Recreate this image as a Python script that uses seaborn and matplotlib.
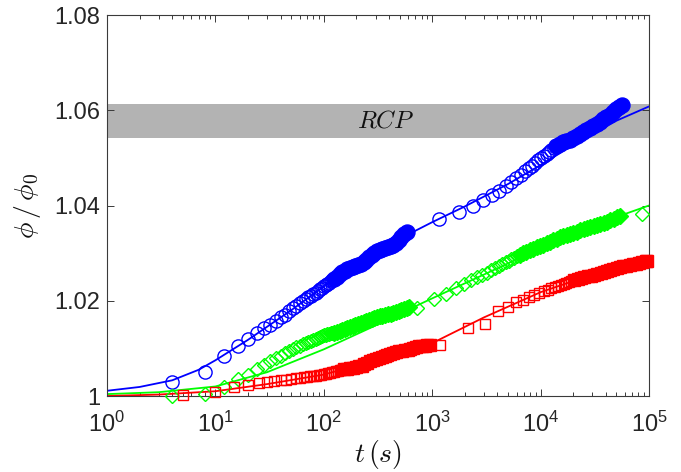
import matplotlib
matplotlib.use("Agg")
import matplotlib.pyplot as plt
import matplotlib.ticker as mticker
import seaborn as sns
import numpy as np

# ---- data ----
# blue circles: first run (sparse part, dense part), second run (sparse, dense)
blue_t1 = [4, 8, 12, 16, 20, 24, 28, 32, 36, 40, 44, 48, 52, 56, 60, 64, 68, 72, 76, 80,
           84, 88, 92, 96, 100, 104, 108, 112, 116, 120]
blue_y1 = [1.0030, 1.0051, 1.0084, 1.0105, 1.0120, 1.0132, 1.0142, 1.0150, 1.0158, 1.0165,
           1.0171, 1.0178, 1.0185, 1.0190, 1.0195, 1.0199, 1.0203, 1.0207, 1.0211, 1.0214,
           1.0217, 1.0221, 1.0224, 1.0227, 1.0230, 1.0233, 1.0236, 1.0238, 1.0241, 1.0243]
blue_t1d = [125, 132, 140, 148, 156, 165, 175, 185, 196, 208, 220, 233, 247, 261, 277, 293,
            310, 329, 348, 369, 390, 413, 438, 464, 491, 520, 550, 580]
blue_y1d = [1.0246, 1.0250, 1.0256, 1.0260, 1.0263, 1.0266, 1.0268, 1.0270, 1.0272, 1.0275,
            1.0278, 1.0282, 1.0286, 1.0292, 1.0297, 1.0301, 1.0304, 1.0306, 1.0308, 1.0310,
            1.0312, 1.0314, 1.0317, 1.0322, 1.0328, 1.0334, 1.0340, 1.0345]
blue_t2 = [1160, 1760, 2360, 2960, 3560, 4160, 4760, 5360, 5960, 6560, 7160, 7760, 8360,
           8960, 9560, 10160, 10760, 11360, 11960, 12560, 13160]
blue_y2 = [1.0371, 1.0386, 1.0399, 1.0412, 1.0422, 1.0431, 1.0441, 1.0450, 1.0458, 1.0465,
           1.0472, 1.0478, 1.0484, 1.0490, 1.0495, 1.0500, 1.0504, 1.0508, 1.0512, 1.0516,
           1.0520]
blue_t2d = [14000, 15000, 16000, 17200, 18500, 20000, 21500, 23000, 24700, 26500, 28500,
            30500, 32800, 35200, 37800, 40500, 43500, 46700, 50000, 53000, 56000]
blue_y2d = [1.0524, 1.0529, 1.0533, 1.0536, 1.0538, 1.0542, 1.0546, 1.0550, 1.0554, 1.0559,
            1.0563, 1.0567, 1.0571, 1.0576, 1.0581, 1.0586, 1.0591, 1.0597, 1.0602, 1.0606,
            1.0610]

# green diamonds
green_t1 = [4, 8, 12, 16, 20, 24, 28, 32, 36, 40, 44, 48, 52, 56, 60, 64, 68, 72, 76, 80,
            84, 88, 92, 96, 100, 104, 108, 112, 116, 120]
green_y1 = [1.0001, 1.0005, 1.0018, 1.0036, 1.0045, 1.0057, 1.0066, 1.0073, 1.0079, 1.0085,
            1.0090, 1.0095, 1.0099, 1.0103, 1.0106, 1.0109, 1.0111, 1.0114, 1.0116, 1.0118,
            1.0120, 1.0122, 1.0124, 1.0126, 1.0128, 1.0129, 1.0130, 1.0131, 1.0132, 1.0133]
green_t1d = [125, 132, 140, 148, 156, 165, 175, 185, 196, 208, 220, 233, 247, 261, 277, 293,
             310, 329, 348, 369, 390, 413, 438, 464, 491, 520, 550, 580, 610]
green_y1d = [1.0133, 1.0135, 1.0137, 1.0139, 1.0141, 1.0143, 1.0145, 1.0147, 1.0149, 1.0151,
             1.0154, 1.0156, 1.0158, 1.0160, 1.0162, 1.0164, 1.0166, 1.0167, 1.0169, 1.0170,
             1.0172, 1.0173, 1.0175, 1.0177, 1.0179, 1.0181, 1.0183, 1.0185, 1.0187]
green_t2 = [730, 1040, 1350, 1660, 1970, 2280, 2590, 2900, 3210, 3520, 3830, 4140, 4450,
            4760, 5070, 5380, 5690, 6000, 85700]
green_y2 = [1.0185, 1.0203, 1.0214, 1.0226, 1.0236, 1.0244, 1.0250, 1.0255, 1.0259, 1.0264,
            1.0268, 1.0273, 1.0277, 1.0281, 1.0284, 1.0287, 1.0290, 1.0293, 1.0382]
green_t2d = [6400, 6900, 7400, 8000, 8600, 9200, 9900, 10600, 11400, 12200, 13100, 14100,
             15100, 16200, 17400, 18700, 20100, 21600, 23200, 24900, 26700, 28700, 30800,
             33100, 35500, 38100, 41000, 44000, 47300, 50800, 54500]
green_y2d = [1.0296, 1.0300, 1.0303, 1.0306, 1.0309, 1.0312, 1.0315, 1.0318, 1.0321, 1.0324,
             1.0327, 1.0330, 1.0333, 1.0335, 1.0338, 1.0340, 1.0343, 1.0345, 1.0348, 1.0350,
             1.0353, 1.0355, 1.0357, 1.0359, 1.0361, 1.0364, 1.0366, 1.0369, 1.0372, 1.0375,
             1.0378]

# red squares
red_t1 = [5, 10, 15, 20, 25, 30, 35, 40, 45, 50, 55, 60, 65, 70, 75, 80, 85, 90, 95, 100,
          105, 110, 115, 120, 125, 130, 135, 140, 145, 150]
red_y1 = [1.0002, 1.0009, 1.0019, 1.0023, 1.0027, 1.0029, 1.0031, 1.0033, 1.0034, 1.0036,
          1.0037, 1.0038, 1.0039, 1.0040, 1.0041, 1.0042, 1.0043, 1.0044, 1.0045, 1.0046,
          1.0047, 1.0048, 1.0049, 1.0050, 1.0051, 1.0052, 1.0053, 1.0054, 1.0055, 1.0056]
red_t1d = [155, 165, 175, 186, 198, 210, 223, 237, 252, 268, 285, 303, 322, 342, 364, 387,
           411, 437, 464, 493, 524, 557, 592, 629, 668, 710, 755, 802, 852, 905, 950]
red_y1d = [1.0056, 1.0057, 1.0058, 1.0059, 1.0061, 1.0062, 1.0064, 1.0067, 1.0070, 1.0073,
           1.0076, 1.0078, 1.0080, 1.0082, 1.0084, 1.0086, 1.0088, 1.0090, 1.0092, 1.0094,
           1.0095, 1.0096, 1.0097, 1.0099, 1.0101, 1.0103, 1.0104, 1.0105, 1.0106, 1.0107,
           1.0108]
red_t2 = [1180, 2130, 3080, 4030, 4980, 5930, 6880, 7830, 8780, 9730, 10680, 11630, 12580,
          13530, 14480, 15430, 16380, 17330, 18280, 19230]
red_y2 = [1.0108, 1.0143, 1.0152, 1.0178, 1.0186, 1.0197, 1.0202, 1.0207, 1.0212, 1.0217,
          1.0220, 1.0223, 1.0226, 1.0229, 1.0231, 1.0233, 1.0235, 1.0237, 1.0239, 1.0241]
red_t2d = [20500, 22000, 23600, 25300, 27100, 29000, 31100, 33300, 35700, 38200, 40900,
           43800, 46900, 50200, 53800, 57600, 61700, 66100, 70800, 75800, 81200, 87000,
           93000, 96000]
red_y2d = [1.0243, 1.0245, 1.0247, 1.0249, 1.0251, 1.0253, 1.0255, 1.0257, 1.0259, 1.0261,
           1.0263, 1.0265, 1.0267, 1.0269, 1.0271, 1.0272, 1.0273, 1.0275, 1.0277, 1.0278,
           1.0280, 1.0281, 1.0283, 1.0284]

# fitted curves
blue_fit_t = [1, 2, 4, 7, 10, 20, 50, 100, 200, 500, 1000, 2000, 5000, 10000, 20000, 50000, 100000]
blue_fit_y = [1.0011, 1.0019, 1.0033, 1.0055, 1.0075, 1.0118, 1.0180, 1.0230, 1.0275, 1.0330,
              1.0365, 1.0398, 1.0445, 1.0485, 1.0527, 1.0578, 1.0608]
green_fit_t = [1, 3, 10, 30, 100, 300, 650, 1000, 3000, 10000, 30000, 100000]
green_fit_y = [1.0004, 1.0008, 1.0020, 1.0050, 1.0098, 1.0148, 1.0185, 1.0205, 1.0255,
               1.0310, 1.0358, 1.0400]
red_fit_t = [1, 3, 10, 30, 100, 300, 1000, 3000, 10000, 30000, 100000]
red_fit_y = [1.0000, 1.0003, 1.0010, 1.0025, 1.0045, 1.0075, 1.0111, 1.0165, 1.0218,
             1.0255, 1.0285]

rcp_band = (1.0542, 1.0614)
y_ticks = [1, 1.02, 1.04, 1.06, 1.08]
y_ticklabels = ["1", "1.02", "1.04", "1.06", "1.08"]

# ---- style ----
sns.set_style("ticks")
plt.rcParams["font.family"] = ["Liberation Sans", "DejaVu Sans"]
plt.rcParams["mathtext.fontset"] = "cm"
axis_col = "#3a3a3a"

fig = plt.figure(figsize=(6.81, 4.72), dpi=100)
ax = fig.add_axes([0.1571, 0.1610, 0.7959, 0.8072])

ax.axhspan(rcp_band[0], rcp_band[1], color="#b3b3b3", lw=0, zorder=0)

for ft, fy, c in [(blue_fit_t, blue_fit_y, "#0000ff"),
                  (green_fit_t, green_fit_y, "#00ff00"),
                  (red_fit_t, red_fit_y, "#ff0000")]:
    sns.lineplot(x=ft, y=fy, color=c, linewidth=1.3, estimator=None, sort=False, ax=ax, zorder=2)


def points(t, y, color, marker, ms, filled):
    sns.lineplot(x=t, y=y, color=color, linestyle="", marker=marker, markersize=ms,
                 markerfacecolor=color if filled else "none", markeredgecolor=color,
                 markeredgewidth=1.0, estimator=None, sort=False, ax=ax, zorder=3,
                 clip_on=False)


# marker sizes: (open, filled) -- the dense runs overlap into a solid band
series = [
    (blue_t1, blue_y1, blue_t1d, blue_y1d, blue_t2, blue_y2, blue_t2d, blue_y2d, "#0000ff", "o", 9.5, 10.8),
    (green_t1, green_y1, green_t1d, green_y1d, green_t2, green_y2, green_t2d, green_y2d, "#00ff00", "D", 6.8, 7.8),
    (red_t1, red_y1, red_t1d, red_y1d, red_t2, red_y2, red_t2d, red_y2d, "#ff0000", "s", 7.2, 8.2),
]
for t1, y1, t1d, y1d, t2, y2, t2d, y2d, c, m, ms, msd in series:
    points(t1, y1, c, m, ms, False)
    points(t1d, y1d, c, m, msd, True)
    points(t2, y2, c, m, ms, False)
    points(t2d, y2d, c, m, msd, True)

ax.text(370, 1.0578, r"$RCP$", fontsize=18, ha="center", va="center", color="#111111")

ax.set_xscale("log")
ax.set_xlim(1, 1e5)
ax.set_ylim(1, 1.08)
ax.set_yticks(y_ticks)
ax.set_yticklabels(y_ticklabels)
ax.xaxis.set_major_locator(mticker.LogLocator(base=10, numticks=10))
ax.xaxis.set_minor_locator(mticker.LogLocator(base=10, subs=np.arange(2, 10), numticks=20))
ax.xaxis.set_minor_formatter(mticker.NullFormatter())

ax.tick_params(which="both", direction="in", top=True, right=True, bottom=True, left=True,
               colors=axis_col, width=0.7, labelsize=17, labelcolor="#262626")
ax.tick_params(which="major", length=5)
ax.tick_params(which="minor", length=2.8)
ax.tick_params(axis="y", pad=5)
ax.tick_params(axis="x", pad=11)
for sp in ax.spines.values():
    sp.set_visible(True)
    sp.set_color(axis_col)
    sp.set_linewidth(0.8)

ax.set_xlabel(r"$t\,(s)$", fontsize=20, labelpad=1, color="#111111")
ax.set_ylabel(r"$\phi\,/\,\phi_0$", fontsize=20, labelpad=8, color="#111111")

fig.savefig("out.png", dpi=100)
